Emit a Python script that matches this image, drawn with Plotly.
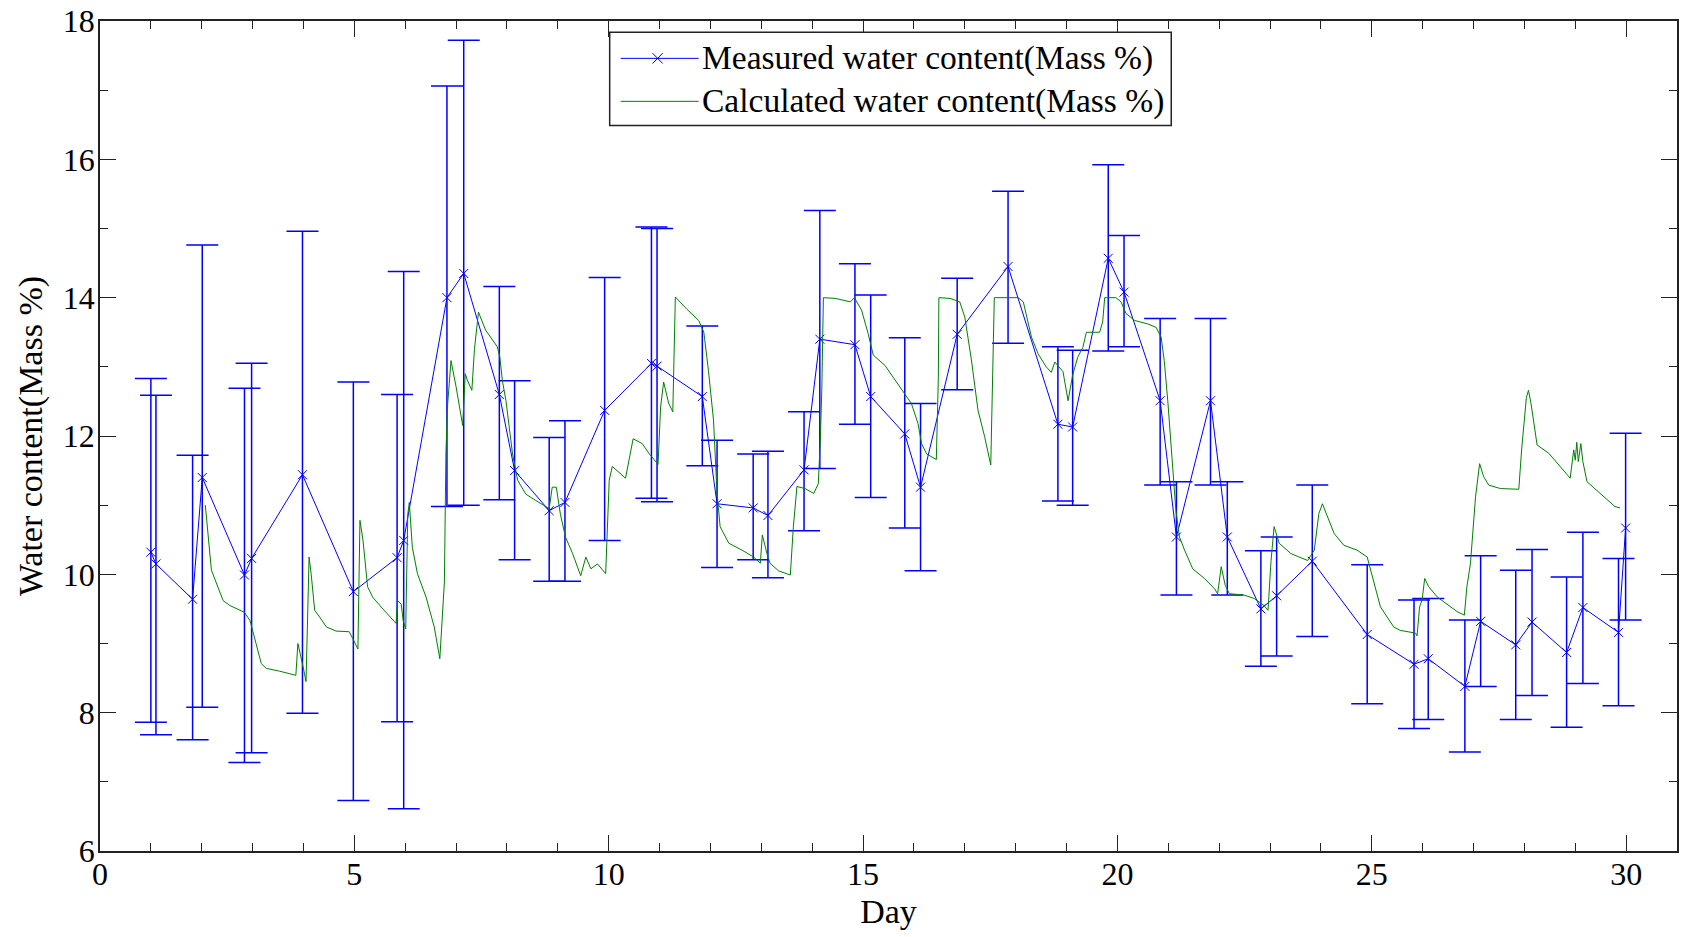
import plotly.graph_objects as go

# Measured water content (day, value, upper bound, lower bound)
meas_day = [1.00, 1.10, 1.82, 2.01, 2.84, 2.98, 3.98, 4.98, 5.84, 5.97,
            6.82, 7.15, 7.85, 8.15, 8.83, 9.14, 9.92, 10.84, 10.95, 11.84,
            12.13, 12.84, 13.13, 13.84, 14.15, 14.84, 15.15, 15.82, 16.13, 16.85,
            17.85, 18.83, 19.12, 19.82, 20.13, 20.84, 21.16, 21.83, 22.16, 22.82,
            23.13, 23.83, 24.91, 25.83, 26.11, 26.83, 27.14, 27.83, 28.15, 28.83,
            29.15, 29.85, 29.99]
meas_val = [10.32, 10.15, 9.64, 11.40, 9.99, 10.23, 11.44, 9.75, 10.24, 10.49,
            14.00, 14.35, 12.60, 11.50, 10.92, 11.04, 12.37, 13.05, 13.01, 12.57,
            11.02, 10.96, 10.85, 11.51, 13.40, 13.32, 12.57, 12.03, 11.26, 13.47,
            14.45, 12.17, 12.13, 14.57, 14.08, 12.51, 10.54, 12.51, 10.54, 9.50,
            9.69, 10.19, 9.13, 8.70, 8.78, 8.38, 9.32, 8.98, 9.31, 8.87,
            9.52, 9.16, 10.67]
meas_upper = [12.83, 12.59, 11.72, 14.76, 12.69, 13.05, 14.96, 12.78, 12.60, 14.38,
              17.06, 17.72, 14.16, 12.80, 11.98, 12.22, 14.29, 15.02, 15.00, 13.59,
              11.94, 11.74, 11.78, 12.35, 15.26, 14.49, 14.04, 13.42, 12.47, 14.28,
              15.54, 13.29, 13.24, 15.92, 14.90, 13.70, 11.34, 13.70, 11.34, 10.34,
              10.54, 11.29, 10.14, 9.63, 9.65, 9.34, 10.27, 10.06, 10.36, 9.96,
              10.61, 10.23, 12.04]
meas_lower = [7.86, 7.68, 7.61, 8.08, 7.28, 7.42, 7.99, 6.73, 7.87, 6.61,
              10.98, 11.00, 11.08, 10.21, 9.90, 9.90, 10.49, 11.10, 11.05, 11.57,
              10.10, 10.21, 9.95, 10.63, 11.53, 12.17, 11.11, 10.67, 10.05, 12.67,
              13.34, 11.06, 11.00, 13.23, 13.29, 11.29, 9.70, 11.29, 9.70, 8.67,
              8.82, 9.10, 8.13, 7.77, 7.90, 7.43, 8.38, 7.90, 8.25, 7.79,
              8.42, 8.10, 9.34]

# Calculated water content
calc_day = [2.07, 2.19, 2.42, 2.55, 2.84, 2.95, 3.17, 3.27, 3.53, 3.85,
            3.89, 3.94, 3.99, 4.05, 4.11, 4.15, 4.22, 4.32, 4.45, 4.64,
            4.90, 4.97, 5.07, 5.11, 5.17, 5.26, 5.36, 5.56, 5.82, 5.85,
            5.92, 5.96, 6.01, 6.05, 6.08, 6.14, 6.24, 6.41, 6.57, 6.68,
            6.73, 6.77, 6.80, 6.83, 6.90, 7.00, 7.13, 7.18, 7.22, 7.31,
            7.36, 7.44, 7.58, 7.81, 7.86, 7.91, 7.98, 8.04, 8.11, 8.21,
            8.37, 8.56, 8.83, 8.89, 8.97, 9.05, 9.15, 9.29, 9.45, 9.55,
            9.65, 9.78, 9.94, 10.01, 10.07, 10.33, 10.40, 10.48, 10.66, 10.79,
            10.97, 11.02, 11.08, 11.18, 11.26, 11.31, 11.54, 11.77, 11.87, 11.96,
            12.06, 12.13, 12.19, 12.36, 12.62, 12.85, 12.98, 13.02, 13.11, 13.17,
            13.34, 13.57, 13.63, 13.70, 13.86, 14.03, 14.12, 14.16, 14.19, 14.22,
            14.45, 14.75, 14.83, 14.97, 15.10, 15.20, 15.43, 15.63, 15.82, 15.95,
            16.08, 16.15, 16.25, 16.44, 16.48, 16.49, 16.71, 16.90, 17.00, 17.13,
            17.26, 17.39, 17.51, 17.56, 17.58, 18.05, 18.15, 18.31, 18.44, 18.60,
            18.70, 18.77, 18.93, 19.03, 19.12, 19.22, 19.32, 19.39, 19.65, 19.71,
            19.75, 19.97, 20.07, 20.17, 20.34, 20.60, 20.76, 20.86, 20.92, 20.99,
            21.09, 21.15, 21.22, 21.32, 21.48, 21.71, 21.91, 21.97, 22.04, 22.12,
            22.20, 22.49, 22.69, 22.88, 22.96, 23.02, 23.08, 23.18, 23.41, 23.74,
            23.87, 23.96, 24.03, 24.13, 24.26, 24.45, 24.71, 24.91, 25.04, 25.17,
            25.43, 25.56, 25.86, 25.89, 25.94, 25.99, 26.04, 26.12, 26.29, 26.52,
            26.68, 26.82, 26.87, 26.94, 27.04, 27.12, 27.20, 27.30, 27.53, 27.89,
            27.95, 28.04, 28.08, 28.13, 28.25, 28.48, 28.67, 28.90, 28.97, 29.00,
            29.03, 29.06, 29.11, 29.15, 29.23, 29.42, 29.62, 29.78, 29.88]
calc_val = [11.00, 10.06, 9.62, 9.55, 9.45, 9.33, 8.71, 8.64, 8.60, 8.54,
            9.00, 8.81, 8.67, 8.45, 10.25, 10.01, 9.48, 9.38, 9.24, 9.18,
            9.17, 9.07, 8.92, 10.78, 10.49, 9.82, 9.67, 9.50, 9.29, 9.62,
            9.57, 9.33, 9.21, 10.87, 11.04, 10.39, 10.01, 9.67, 9.24, 8.78,
            9.43, 9.89, 11.74, 12.42, 13.09, 12.71, 12.15, 12.90, 12.81, 12.66,
            13.25, 13.79, 13.53, 13.29, 13.14, 12.80, 12.51, 12.13, 11.74, 11.36,
            11.16, 11.07, 10.95, 11.26, 11.26, 10.87, 10.54, 10.30, 9.98, 10.25,
            10.08, 10.15, 10.01, 11.36, 11.56, 11.39, 11.65, 11.96, 11.89, 11.75,
            11.59, 12.42, 12.78, 12.47, 12.35, 14.01, 13.83, 13.67, 13.50, 12.95,
            12.23, 11.17, 10.69, 10.45, 10.35, 10.25, 10.16, 10.57, 10.30, 10.16,
            10.05, 9.99, 10.69, 11.27, 11.24, 11.17, 11.31, 11.94, 12.71, 14.00,
            13.99, 13.94, 14.00, 13.82, 13.48, 13.17, 13.02, 12.81, 12.61, 12.47,
            12.18, 11.89, 11.74, 11.66, 12.85, 14.00, 13.99, 13.94, 13.72, 13.10,
            12.37, 11.99, 11.58, 13.33, 14.00, 14.00, 13.94, 13.43, 13.19, 13.00,
            12.92, 13.07, 12.93, 12.51, 12.88, 13.14, 13.28, 13.50, 13.50, 13.65,
            14.00, 14.00, 13.94, 13.77, 13.67, 13.62, 13.57, 13.43, 13.09, 12.51,
            11.55, 10.92, 10.54, 10.35, 10.08, 9.94, 9.79, 9.72, 10.11, 9.84,
            9.72, 9.70, 9.65, 9.55, 9.48, 10.20, 10.69, 10.45, 10.30, 10.20,
            10.35, 10.88, 11.02, 10.83, 10.59, 10.42, 10.35, 10.25, 9.87, 9.53,
            9.24, 9.19, 9.15, 9.11, 9.53, 9.63, 9.94, 9.82, 9.67, 9.55,
            9.46, 9.41, 9.82, 10.16, 11.12, 11.60, 11.41, 11.29, 11.24, 11.23,
            11.84, 12.56, 12.66, 12.47, 11.87, 11.75, 11.58, 11.39, 11.80, 11.65,
            11.91, 11.63, 11.89, 11.63, 11.34, 11.22, 11.08, 10.98, 10.96]

x_ticks = [0, 5, 10, 15, 20, 25, 30]
y_ticks = [6, 8, 10, 12, 14, 16, 18]
legend_labels = ["Measured water content(Mass %)", "Calculated water content(Mass %)"]

err_plus = [u - v for u, v in zip(meas_upper, meas_val)]
err_minus = [v - l for v, l in zip(meas_val, meas_lower)]

FONT = "Liberation Serif"
BLUE = "#0000FF"
GREEN = "#008000"

fig = go.Figure()

fig.add_trace(go.Scatter(
    x=meas_day, y=meas_val,
    mode="lines+markers",
    name=legend_labels[0],
    line=dict(color=BLUE, width=1),
    marker=dict(symbol="x-thin", size=9, color=BLUE,
                line=dict(color=BLUE, width=1)),
    error_y=dict(type="data", symmetric=False, array=err_plus,
                 arrayminus=err_minus, color=BLUE, thickness=1.5, width=16),
    showlegend=False,
))

fig.add_trace(go.Scatter(
    x=calc_day, y=calc_val,
    mode="lines",
    name=legend_labels[1],
    line=dict(color=GREEN, width=1),
    showlegend=False,
))

axis_common = dict(
    showline=True, linecolor="#222", linewidth=1.5, mirror="ticks",
    ticks="inside", ticklen=16, tickwidth=1.2, tickcolor="#222",
    showgrid=False, zeroline=False, automargin=False,
    ticklabeloverflow="allow",
    tickfont=dict(family=FONT, size=32, color="black"),
    title_font=dict(family=FONT, size=34, color="black"),
)

fig.update_xaxes(
    range=[0, 31], tickvals=x_ticks,
    minor=dict(ticks="inside", ticklen=8, dtick=1, tick0=0, tickcolor="#222", tickwidth=1.2),
    title_text="Day", title_standoff=8, ticklabelstandoff=-6,
    **axis_common,
)
fig.update_yaxes(
    range=[6, 18], tickvals=y_ticks,
    minor=dict(ticks="inside", ticklen=8, dtick=1, tick0=0, tickcolor="#222", tickwidth=1.2),
    title_text="Water content(Mass %)", title_standoff=10, ticklabelstandoff=-3,
    **axis_common,
)

# Legend box drawn in paper coordinates (MATLAB style)
L_x0, L_x1, L_y0, L_y1 = 0.3232, 0.6793, 0.8742, 0.9864
row_y = [0.955, 0.9032]
seg_x0, seg_x1, mark_x, text_x = 0.3302, 0.3796, 0.3536, 0.3803
mdx, mdy = 0.0032, 0.0062

shapes = [dict(type="rect", xref="paper", yref="paper", x0=L_x0, x1=L_x1, y0=L_y0, y1=L_y1,
               line=dict(color="#222", width=1.5), fillcolor="white", layer="above")]
shapes.append(dict(type="line", xref="paper", yref="paper", x0=seg_x0, x1=seg_x1,
                   y0=row_y[0], y1=row_y[0], line=dict(color=BLUE, width=1), layer="above"))
shapes.append(dict(type="line", xref="paper", yref="paper", x0=mark_x - mdx, x1=mark_x + mdx,
                   y0=row_y[0] - mdy, y1=row_y[0] + mdy, line=dict(color=BLUE, width=1), layer="above"))
shapes.append(dict(type="line", xref="paper", yref="paper", x0=mark_x - mdx, x1=mark_x + mdx,
                   y0=row_y[0] + mdy, y1=row_y[0] - mdy, line=dict(color=BLUE, width=1), layer="above"))
shapes.append(dict(type="line", xref="paper", yref="paper", x0=seg_x0, x1=seg_x1,
                   y0=row_y[1], y1=row_y[1], line=dict(color=GREEN, width=1), layer="above"))

annotations = [dict(xref="paper", yref="paper", x=text_x, y=row_y[i], text=legend_labels[i],
                    showarrow=False, xanchor="left", yanchor="middle",
                    font=dict(family=FONT, size=33.5, color="black"))
               for i in range(2)]

# The page body adds an 8px margin; size the figure so it fills the window exactly.
fig.update_layout(
    width=1679, height=929,
    margin=dict(l=92, r=10, t=13, b=86),
    paper_bgcolor="white", plot_bgcolor="white",
    font=dict(family=FONT, color="black"),
    showlegend=False,
    shapes=shapes,
    annotations=annotations,
)

fig.write_html("out.html")
